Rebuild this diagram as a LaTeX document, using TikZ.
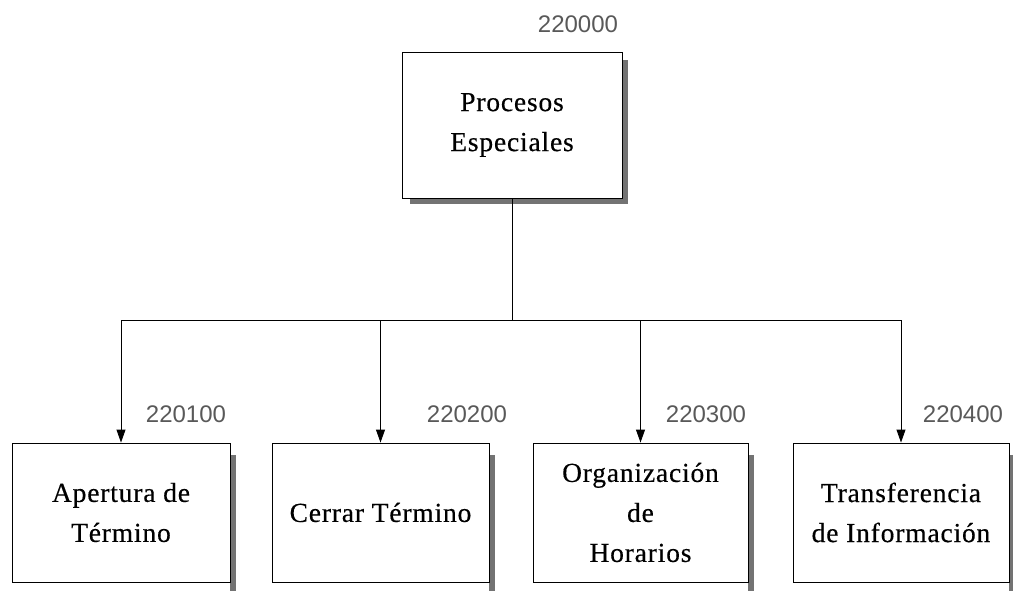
\documentclass[tikz,border=0pt]{standalone}
\usepackage{fontspec}
\setmainfont{Liberation Serif}
\newfontfamily\labfont{Liberation Sans}
\newfontfamily\boxfont[LetterSpace=3,FakeBold=0.4]{Liberation Serif}
\usetikzlibrary{arrows.meta}
\begin{document}
\begin{tikzpicture}[x=1pt,y=-1pt,
  box/.style={draw=black,line width=0.9pt,fill=white,align=center,inner sep=0pt,
    font=\boxfont\fontsize{27.5}{40}\selectfont},
  code/.style={font=\labfont\fontsize{24}{28}\selectfont,text=black!65},
  conn/.style={draw=black,line width=0.9pt},
  arr/.style={conn,-{Triangle[width=9pt,length=13pt]}}]
\useasboundingbox (0,0) rectangle (1013,591);
% shadows
\fill[black!55] (622,60) rectangle (628,204);
\fill[black!55] (410,198) rectangle (628,204);
\fill[black!55] (230,455) rectangle (236,591);
\fill[black!55] (489,455) rectangle (495,591);
\fill[black!55] (748,455) rectangle (754,591);
\fill[black!55] (1009,455) rectangle (1013,591);
% boxes
\node[box,minimum width=220pt,minimum height=146pt] (p) at (512,125) {Procesos\\Especiales};
\node[box,minimum width=218pt,minimum height=139pt] (a) at (121,512.5) {Apertura de\\Término};
\node[box,minimum width=217pt,minimum height=139pt] (b) at (380.5,512.5) {Cerrar Término};
\node[box,minimum width=215pt,minimum height=139pt] (c) at (640.5,512.5) {Organización\\de\\Horarios};
\node[box,minimum width=216pt,minimum height=139pt] (d) at (901,512.5) {Transferencia\\de Información};
% codes
\node[code] (lp) at (578,24) {220000};
\node[code] (la) at (186,414) {220100};
\node[code] (lb) at (467,414) {220200};
\node[code] (lc) at (706,414) {220300};
\node[code] (ld) at (963,414) {220400};
% connectors
\coordinate (j) at (512,320);
\coordinate (ja) at (121,320);
\coordinate (jb) at (380.5,320);
\coordinate (jc) at (640.5,320);
\coordinate (jd) at (901,320);
\draw[conn] (p.south) -- (j);
\draw[conn] (ja) -- (jd);
\draw[arr] (ja) -- (a.north);
\draw[arr] (jb) -- (b.north);
\draw[arr] (jc) -- (c.north);
\draw[arr] (jd) -- (d.north);
\end{tikzpicture}
\end{document}
